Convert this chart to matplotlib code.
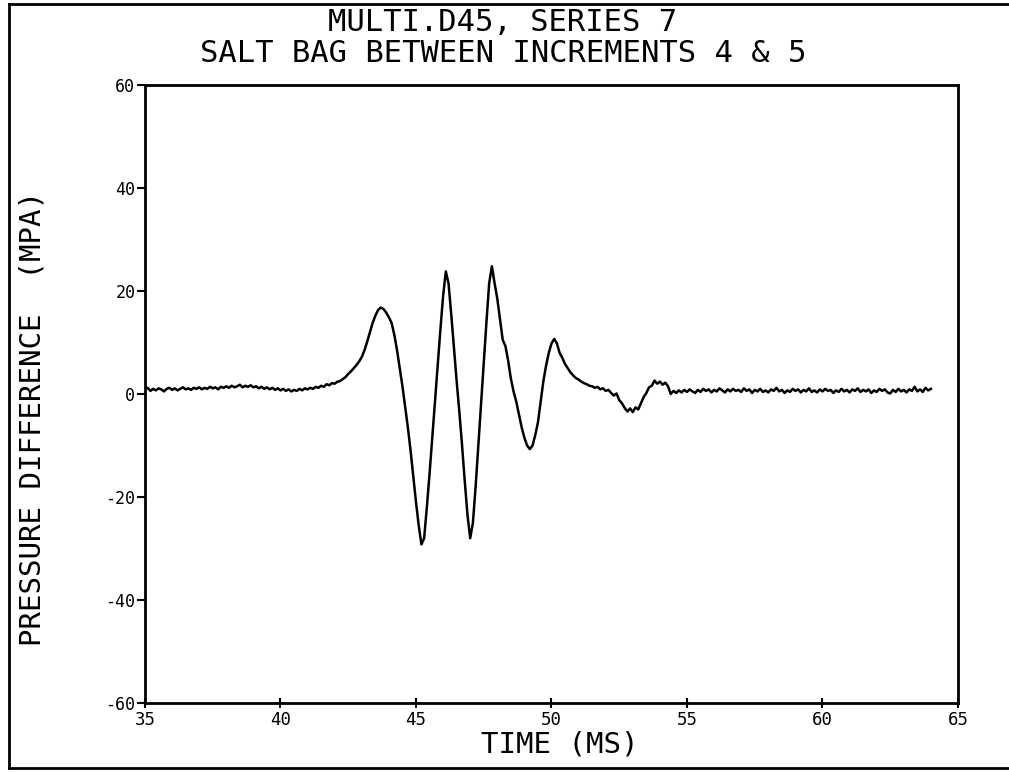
import numpy as np
import matplotlib
matplotlib.use('Agg')
import matplotlib.pyplot as plt
from matplotlib.lines import Line2D

# time axis (ms), sampled every 0.1 ms from 35.0 to 64.0
t_start = 35.0
t_step = 0.1

# pressure difference (MPa)
pressure = [
    0.8, 1.2, 0.6, 1.0, 0.7, 1.1, 0.9, 0.5, 1.0, 1.2,      # 35
    0.8, 1.1, 0.7, 1.0, 1.3, 0.9, 1.1, 0.8, 1.2, 1.0,      # 36
    1.3, 0.9, 1.2, 1.0, 1.4, 1.1, 1.3, 0.9, 1.4, 1.2,      # 37
    1.5, 1.2, 1.6, 1.3, 1.5, 1.8, 1.3, 1.6, 1.4, 1.7,      # 38
    1.3, 1.5, 1.1, 1.4, 1.0, 1.3, 0.9, 1.2, 0.8, 1.1,      # 39
    0.7, 1.0, 0.6, 0.9, 0.5, 0.8, 0.6, 1.0, 0.7, 1.1,      # 40
    0.9, 1.2, 1.0, 1.4, 1.2, 1.6, 1.4, 1.9, 1.7, 2.1,      # 41
    2.0, 2.4, 2.5, 2.9, 3.3, 3.9, 4.4, 5.0, 5.6, 6.3,      # 42
    7.2, 8.5, 10.2, 12.0, 13.8, 15.2, 16.3, 16.8, 16.5, 15.8,   # 43
    14.9, 13.8, 11.5, 8.5, 5.0, 1.5, -2.5, -6.5, -11.0, -16.0,  # 44
    -21.0, -25.5, -29.2, -28.0, -22.0, -15.5, -8.5, -1.5, 5.5, 12.5,  # 45
    19.0, 23.8, 21.5, 15.5, 9.0, 2.5, -3.5, -10.0, -17.0, -23.5,     # 46
    -28.0, -25.0, -18.0, -10.0, -2.0, 6.0, 14.0, 21.5, 24.8, 21.5,   # 47
    18.5, 14.5, 10.5, 9.3, 6.5, 3.0, 0.5, -1.5, -4.0, -6.5,          # 48
    -8.5, -10.0, -10.7, -10.0, -8.0, -5.5, -1.5, 2.5, 5.5, 8.0,      # 49
    9.8, 10.7, 9.8, 8.0, 7.0, 5.8, 5.0, 4.2, 3.6, 3.1,               # 50
    2.8, 2.4, 2.1, 1.9, 1.6, 1.5, 1.2, 1.4, 0.9, 1.1,                # 51
    0.6, 0.8, 0.2, -0.3, 0.1, -1.2, -1.8, -2.7, -3.4, -2.8,          # 52
    -3.5, -2.6, -3.0, -1.8, -0.6, 0.2, 1.3, 1.6, 2.6, 2.0,           # 53
    2.4, 1.8, 2.2, 1.5, 0.0, 0.6, 0.2, 0.7, 0.3, 0.8,                # 54
    0.4, 0.9, 0.5, 0.2, 0.8, 0.4, 1.0, 0.6, 0.9, 0.3,      # 55
    0.8, 0.5, 1.1, 0.7, 0.3, 0.9, 0.5, 1.0, 0.6, 0.8,      # 56
    0.4, 1.1, 0.6, 0.9, 0.2, 0.8, 0.5, 1.0, 0.4, 0.7,      # 57
    0.3, 0.9, 0.6, 1.2, 0.5, 0.8, 0.2, 0.7, 0.4, 1.0,      # 58
    0.6, 0.9, 0.3, 0.8, 0.5, 1.1, 0.4, 0.7, 0.3, 0.9,      # 59
    0.5, 1.0, 0.6, 0.8, 0.2, 0.7, 0.4, 1.0, 0.5, 0.8,      # 60
    0.3, 0.9, 0.6, 1.1, 0.4, 0.8, 0.5, 0.9, 0.2, 0.7,      # 61
    0.4, 1.0, 0.6, 0.9, 0.3, 0.1, 0.8, 0.4, 1.0, 0.5,      # 62
    0.8, 0.3, 0.9, 0.6, 1.4, 0.5, 0.9, 0.4, 1.2, 0.7,      # 63
    1.0,                                                   # 64
]
time_ms = t_start + t_step * np.arange(len(pressure))

x_ticks = [35, 40, 45, 50, 55, 60, 65]
y_ticks = [-60, -40, -20, 0, 20, 40, 60]

title_1 = 'MULTI.D45, SERIES 7'
title_2 = 'SALT BAG BETWEEN INCREMENTS 4 & 5'

plt.rcParams['font.family'] = ['DejaVu Sans Mono', 'DejaVu Sans']

fig = plt.figure(figsize=(10.09, 7.72), dpi=100)
ax = fig.add_axes([145 / 1009, 1 - 703 / 772, 813 / 1009, 618 / 772])

ax.plot(time_ms, pressure, color='black', lw=1.8)

ax.set_xlim(35, 65)
ax.set_ylim(-60, 60)
ax.set_xticks(x_ticks)
ax.set_yticks(y_ticks)
ax.set_xticklabels([str(v) for v in x_ticks], fontsize=12.5)
ax.set_yticklabels([str(v) for v in y_ticks], fontsize=12)
ax.tick_params(axis='y', direction='out', length=6, width=1.5, pad=1)
ax.tick_params(axis='x', direction='inout', length=7, width=1.5, pad=2)
for s in ax.spines.values():
    s.set_linewidth(2)

# two-line title, baselines placed under the page frame
fig.text(503 / 1009, 1 - 31 / 772, title_1, ha='center', va='baseline', fontsize=22)
fig.text(503 / 1009, 1 - 62 / 772, title_2, ha='center', va='baseline', fontsize=22)
fig.text(560 / 1009, 1 - 745 / 772, 'TIME (MS)', ha='center', va='center', fontsize=21)
fig.text(33 / 1009, 1 - 418 / 772, 'PRESSURE DIFFERENCE  (MPA)', ha='center', va='center',
         rotation=90, fontsize=21)

# scanned page frame (top, left, bottom edges)
fig.add_artist(Line2D([9 / 1009, 1.0], [1 - 4 / 772, 1 - 4 / 772], color='black', lw=2))
fig.add_artist(Line2D([9 / 1009, 9 / 1009], [1 - 4 / 772, 1 - 768 / 772], color='black', lw=2))
fig.add_artist(Line2D([9 / 1009, 1.0], [1 - 768 / 772, 1 - 768 / 772], color='black', lw=2))

fig.savefig('out.png', dpi=100)
